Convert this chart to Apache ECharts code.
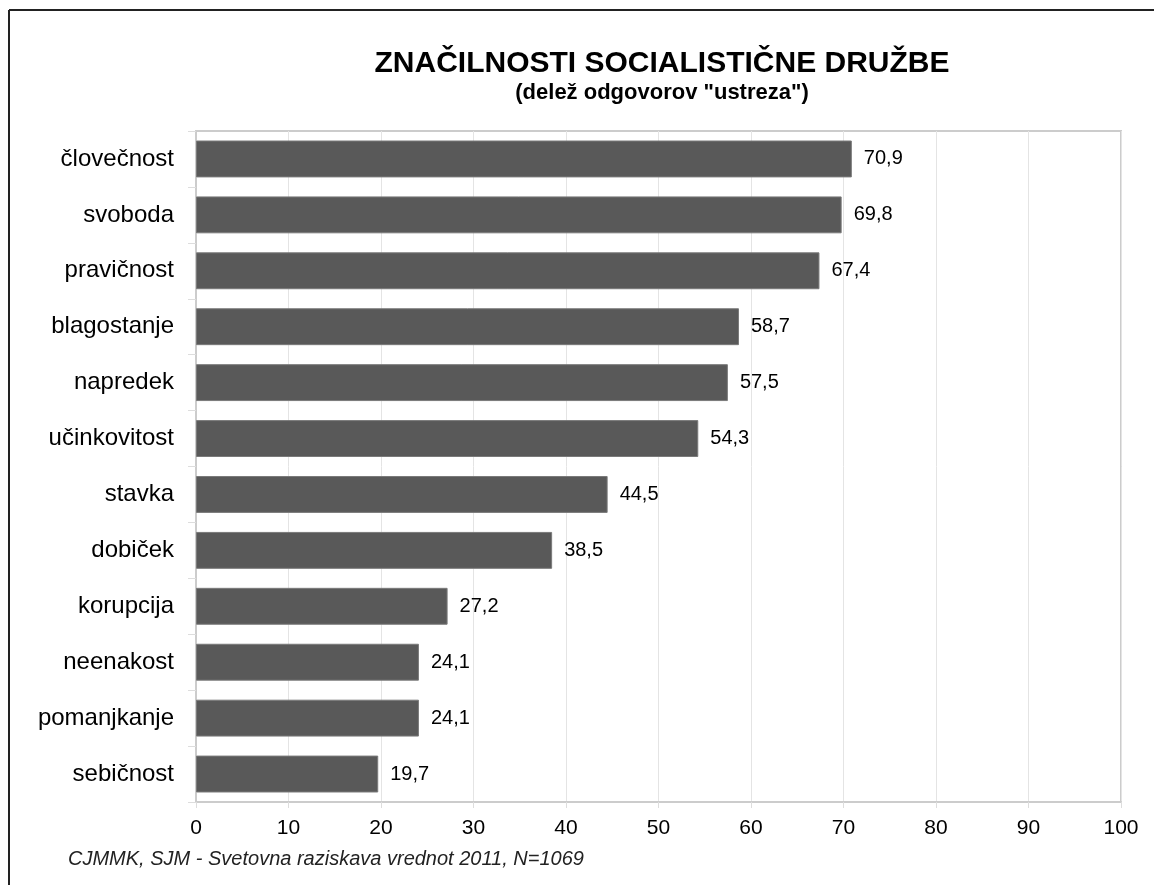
<!DOCTYPE html>
<html>
<head>
<meta charset="utf-8">
<script src="https://cdn.jsdelivr.net/npm/echarts@6/dist/echarts.min.js"></script>
<style>
  html, body { margin: 0; padding: 0; background: #fff; }
  #chart { width: 1154px; height: 885px; }
</style>
</head>
<body>
<div id="chart"></div>
<script>
// podatki
const categories = ['človečnost', 'svoboda', 'pravičnost', 'blagostanje', 'napredek', 'učinkovitost',
  'stavka', 'dobiček', 'korupcija', 'neenakost', 'pomanjkanje', 'sebičnost'];
const values = [70.9, 69.8, 67.4, 58.7, 57.5, 54.3, 44.5, 38.5, 27.2, 24.1, 24.1, 19.7];
const xTicks = [0, 10, 20, 30, 40, 50, 60, 70, 80, 90, 100];

const font = '"Liberation Sans", Arial, sans-serif';
const chart = echarts.init(document.getElementById('chart'));

const option = {
  backgroundColor: '#fff',
  animation: false,
  title: {
    text: 'ZNAČILNOSTI SOCIALISTIČNE DRUŽBE',
    subtext: '(delež odgovorov "ustreza")',
    left: 657,
    top: 44,
    textAlign: 'center',
    itemGap: 3,
    textStyle: { fontFamily: font, fontSize: 30, fontWeight: 'bold', color: '#000' },
    subtextStyle: { fontFamily: font, fontSize: 22, fontWeight: 'bold', color: '#000' }
  },
  graphic: [
    // okvir slike (levo in zgoraj)
    { type: 'line', shape: { x1: 9, y1: 10, x2: 1154, y2: 10 }, style: { stroke: '#222', lineWidth: 2 } },
    { type: 'line', shape: { x1: 9, y1: 10, x2: 9, y2: 885 }, style: { stroke: '#222', lineWidth: 2 } },
    {
      type: 'text', left: 68, top: 849,
      style: {
        text: 'CJMMK, SJM - Svetovna raziskava vrednot 2011, N=1069',
        font: 'italic 20px ' + font, fill: '#222'
      }
    }
  ],
  grid: {
    left: 196, right: 33, top: 131, bottom: 83,
    show: true, borderColor: '#ccc', borderWidth: 2
  },
  xAxis: {
    type: 'value',
    min: 0, max: 100, interval: 10,
    axisLine: { show: true, lineStyle: { color: '#ccc', width: 2 } },
    axisTick: { show: true, length: 6, lineStyle: { color: '#ddd' } },
    axisLabel: {
      fontFamily: font, fontSize: 21, color: '#000', margin: 16,
      formatter: v => xTicks.includes(v) ? String(v) : ''
    },
    splitLine: { show: true, lineStyle: { color: '#e4e4e4', width: 1 } }
  },
  yAxis: {
    type: 'category',
    data: categories,
    inverse: true,
    axisLine: { show: true, lineStyle: { color: '#ccc', width: 2 } },
    axisTick: { show: true, length: 8, lineStyle: { color: '#ddd' } },
    axisLabel: { fontFamily: font, fontSize: 24, color: '#000', margin: 22 }
  },
  series: [{
    type: 'bar',
    data: values,
    barCategoryGap: '34%',
    itemStyle: { color: '#595959', borderColor: '#7a7a7a', borderWidth: 1 },
    label: {
      show: true, position: 'right', distance: 12,
      fontFamily: font, fontSize: 20, color: '#000',
      formatter: p => p.value.toFixed(1).replace('.', ',')
    }
  }]
};

chart.setOption(option);
</script>
</body>
</html>
